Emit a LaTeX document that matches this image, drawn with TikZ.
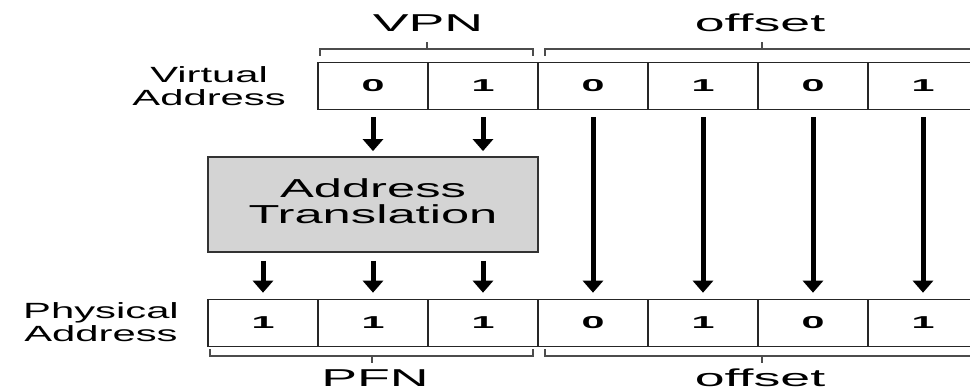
\documentclass[tikz,border=0pt]{standalone}
\usepackage{fontspec}
\setmainfont{Liberation Sans}
\usetikzlibrary{arrows.meta,positioning}

\newcommand{\widetxt}[2][2]{\scalebox{#1}[1]{#2}}
\newcommand{\bit}[1]{\scalebox{2.4}[1]{\fontsize{8.6}{9}\selectfont\bfseries #1}}

\begin{document}
\begin{tikzpicture}[x=0.5pt,y=-0.5pt,node distance=55pt]
  \tikzstyle{bitcell}=[draw=black!85,line width=0.8pt,minimum width=55pt,minimum height=23.5pt,inner sep=0pt]
  \tikzstyle{bitarrow}=[-{Triangle[width=10pt,length=6pt]},line width=2.5pt]
  \tikzstyle{brace}=[draw=black!70,line width=0.7pt]
  \tikzstyle{field}=[font=\fontsize{12.2}{14}\selectfont,anchor=base,inner sep=0pt]
  \tikzstyle{rowname}=[font=\fontsize{11}{11.5}\selectfont,inner sep=0pt]

  \useasboundingbox (0,0) rectangle (970,390);

  % virtual address
  \node[bitcell] (v1) at (373,86) {\bit{0}};
  \node[bitcell] (v2) [right of=v1] {\bit{1}};
  \node[bitcell] (v3) [right of=v2] {\bit{0}};
  \node[bitcell] (v4) [right of=v3] {\bit{1}};
  \node[bitcell] (v5) [right of=v4] {\bit{0}};
  \node[bitcell] (v6) [right of=v5] {\bit{1}};
  \node[rowname,yshift=-1.5pt] (vname) [left=15.5pt of v1]
    {\widetxt[1.9]{\begin{tabular}{@{}c@{}}Virtual\\Address\end{tabular}}};

  % translation box
  \node[draw=black!80,line width=0.9pt,fill=black!17,minimum width=165pt,
        minimum height=47.5pt,inner sep=0pt,font=\fontsize{13}{11.5}\selectfont]
    (tr) at (373,204.5)
    {\widetxt[1.95]{\begin{tabular}{@{}c@{}}Address\\Translation\end{tabular}}};

  % physical address
  \node[bitcell] (p2) at (373,323) {\bit{1}};
  \node[bitcell] (p1) [left of=p2] {\bit{1}};
  \node[bitcell] (p3) [right of=p2] {\bit{1}};
  \node[bitcell] (p4) [right of=p3] {\bit{0}};
  \node[bitcell] (p5) [right of=p4] {\bit{1}};
  \node[bitcell] (p6) [right of=p5] {\bit{0}};
  \node[bitcell] (p7) [right of=p6] {\bit{1}};
  \node[rowname,yshift=-1pt] (pname) [left=14pt of p1]
    {\widetxt[1.9]{\begin{tabular}{@{}c@{}}Physical\\Address\end{tabular}}};

  % field brackets
  \draw[brace] (320,56) -- (320,49) -- (533,49) -- (533,56) (427,49) -- (427,42);
  \draw[brace] (545,56) -- (545,49) -- (979,49) -- (979,56) (762,49) -- (762,42);
  \draw[brace] (210,349) -- (210,356) -- (533,356) -- (533,349) (372,356) -- (372,363);
  \draw[brace] (545,349) -- (545,356) -- (979,356) -- (979,349) (762,356) -- (762,363);

  \node[field] (vpn)  at (428,32)  {\widetxt[2.2]{VPN}};
  \node[field] (voff) at (760,32)  {\widetxt[2.2]{offset}};
  \node[field] (pfn)  at (375,386) {\widetxt[2.2]{PFN}};
  \node[field] (poff) at (760,386) {\widetxt[2.2]{offset}};

  \path[bitarrow,shorten <=3.5pt,shorten >=2.5pt]
        (v1.south) edge (v1.south |- tr.north)
        (v2.south) edge (v2.south |- tr.north);
  \path[bitarrow,shorten <=4pt,shorten >=3pt]
        (p1.north |- tr.south) edge (p1.north)
        (p2.north |- tr.south) edge (p2.north)
        (p3.north |- tr.south) edge (p3.north);
  \path[bitarrow,shorten <=3.5pt,shorten >=3pt]
        (v3.south) edge (p4.north)
        (v4.south) edge (p5.north)
        (v5.south) edge (p6.north)
        (v6.south) edge (p7.north);

\end{tikzpicture}
\end{document}
